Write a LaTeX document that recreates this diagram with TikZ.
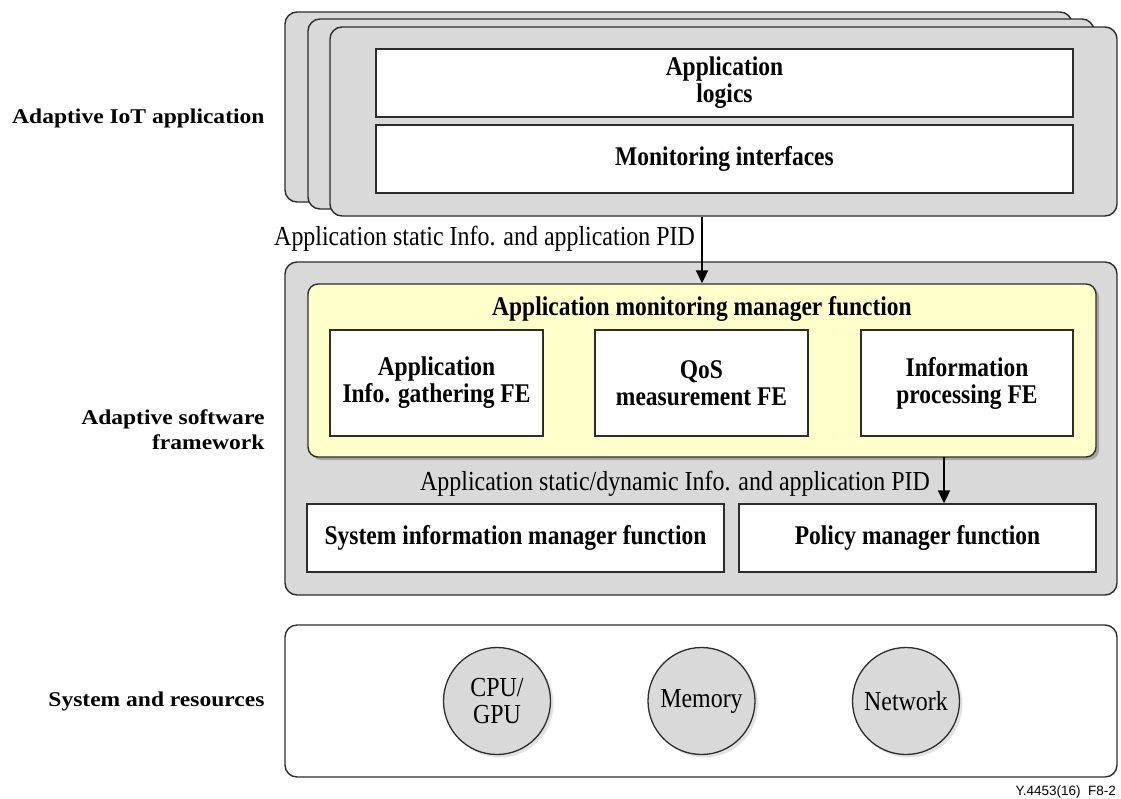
\documentclass[tikz,border=0pt]{standalone}
\usepackage{fontspec}
\setmainfont{Liberation Serif}[FakeStretch=0.87]
\newfontfamily\widebf{Liberation Serif}[FakeStretch=1.12]
\setsansfont{Liberation Sans}
\usetikzlibrary{arrows.meta,shadows}
\definecolor{boxgray}{RGB}{217,217,217}
\definecolor{fnyellow}{RGB}{255,255,204}
\definecolor{edge}{RGB}{45,45,45}
\begin{document}
\begin{tikzpicture}[x=1pt,y=-1pt,
  font=\fontsize{27.5}{27}\selectfont,
  layer/.style={draw=edge,line width=1.4pt,fill=boxgray,rounded corners=12pt,inner sep=0pt},
  whitebox/.style={draw=edge,line width=1.4pt,fill=white,inner sep=0pt,align=center,
    font=\fontsize{27}{27}\selectfont\bfseries},
  res/.style={circle,draw=edge,line width=1.3pt,fill=boxgray,minimum size=107pt,inner sep=0pt,
    align=center,drop shadow={shadow xshift=3pt,shadow yshift=-3pt,fill=black!22}},
  sidelabel/.style={anchor=east,align=right,font=\fontsize{21}{25}\selectfont\widebf\bfseries},
  flowlabel/.style={anchor=base east,inner sep=0pt},
  flow/.style={line width=2pt,-{Triangle[length=13pt,width=12pt]}}]
\useasboundingbox (0,0) rectangle (1121,798);
%\draw[step=50,gray,very thin] (0,0) grid (1121,798);

% adaptive IoT application (stacked instances)
\node[layer,minimum width=787pt,minimum height=190pt] (appback) at (678.5,107) {};
\node[layer,minimum width=786pt,minimum height=190pt] (appmid) at (701,114) {};
\node[layer,minimum width=787pt,minimum height=189pt] (front) at (723.5,121.5) {};
\node[whitebox,minimum width=697pt,minimum height=68pt] (logics) at (724.5,83) {Application\\logics};
\node[whitebox,minimum width=697pt,minimum height=68pt] (monif) at (724.5,159) {Monitoring interfaces};

% adaptive software framework
\node[layer,minimum width=832pt,minimum height=333pt] (asf) at (701,428.5) {};
\node[draw=edge,line width=1.4pt,fill=fnyellow,rounded corners=10pt,inner sep=0pt,
  minimum width=788pt,minimum height=173pt,
  drop shadow={shadow xshift=3pt,shadow yshift=-3pt,fill=black!55}] (amm) at (702,370.5) {};
\node[font=\fontsize{27}{27}\selectfont\bfseries] (ammtitle) at (702,309) {Application monitoring manager function};
\node[whitebox,minimum width=213pt,minimum height=106pt] (gather) at (436.5,383) {Application\\Info. gathering FE};
\node[whitebox,minimum width=213pt,minimum height=106pt] (qos) at (701.5,383) {QoS\\measurement FE};
\node[whitebox,minimum width=212pt,minimum height=106pt] (proc) at (967,383) {Information\\processing FE};
\node[whitebox,minimum width=417pt,minimum height=68pt] (sysinfo) at (515.5,538) {System information manager function};
\node[whitebox,minimum width=357pt,minimum height=68pt] (policy) at (917.5,538) {Policy manager function};

% system and resources
\node[draw=edge,line width=1.4pt,fill=white,rounded corners=12pt,inner sep=0pt,
  minimum width=832pt,minimum height=152pt] (sysres) at (701,701) {};
\node[res] (cpu) at (497,701) {CPU/\\GPU};
\node[res] (mem) at (701.5,701) {Memory};
\node[res] (net) at (906,701) {Network};

% flows
\draw[flow] (amm.north |- front.south) -- (amm.north);
\node[flowlabel] (lbl1) at (695,245) {Application static Info. and application PID};
\coordinate (tap) at (944,457);
\draw[flow] (tap) -- (tap |- policy.north);
\node[flowlabel] (lbl2) at (930,490) {Application static/dynamic Info. and application PID};

% layer names
\node[sidelabel] (l1) at (268,118) {Adaptive IoT application};
\node[sidelabel] (l2) at (268,430) {Adaptive software\\framework};
\node[sidelabel] (l3) at (268,701) {System and resources};

\node[anchor=base east,inner sep=0pt,font=\fontsize{13.5}{16}\sffamily] (fig) at (1116,795) {Y.4453(16)\ \ F8-2};
\end{tikzpicture}
\end{document}
